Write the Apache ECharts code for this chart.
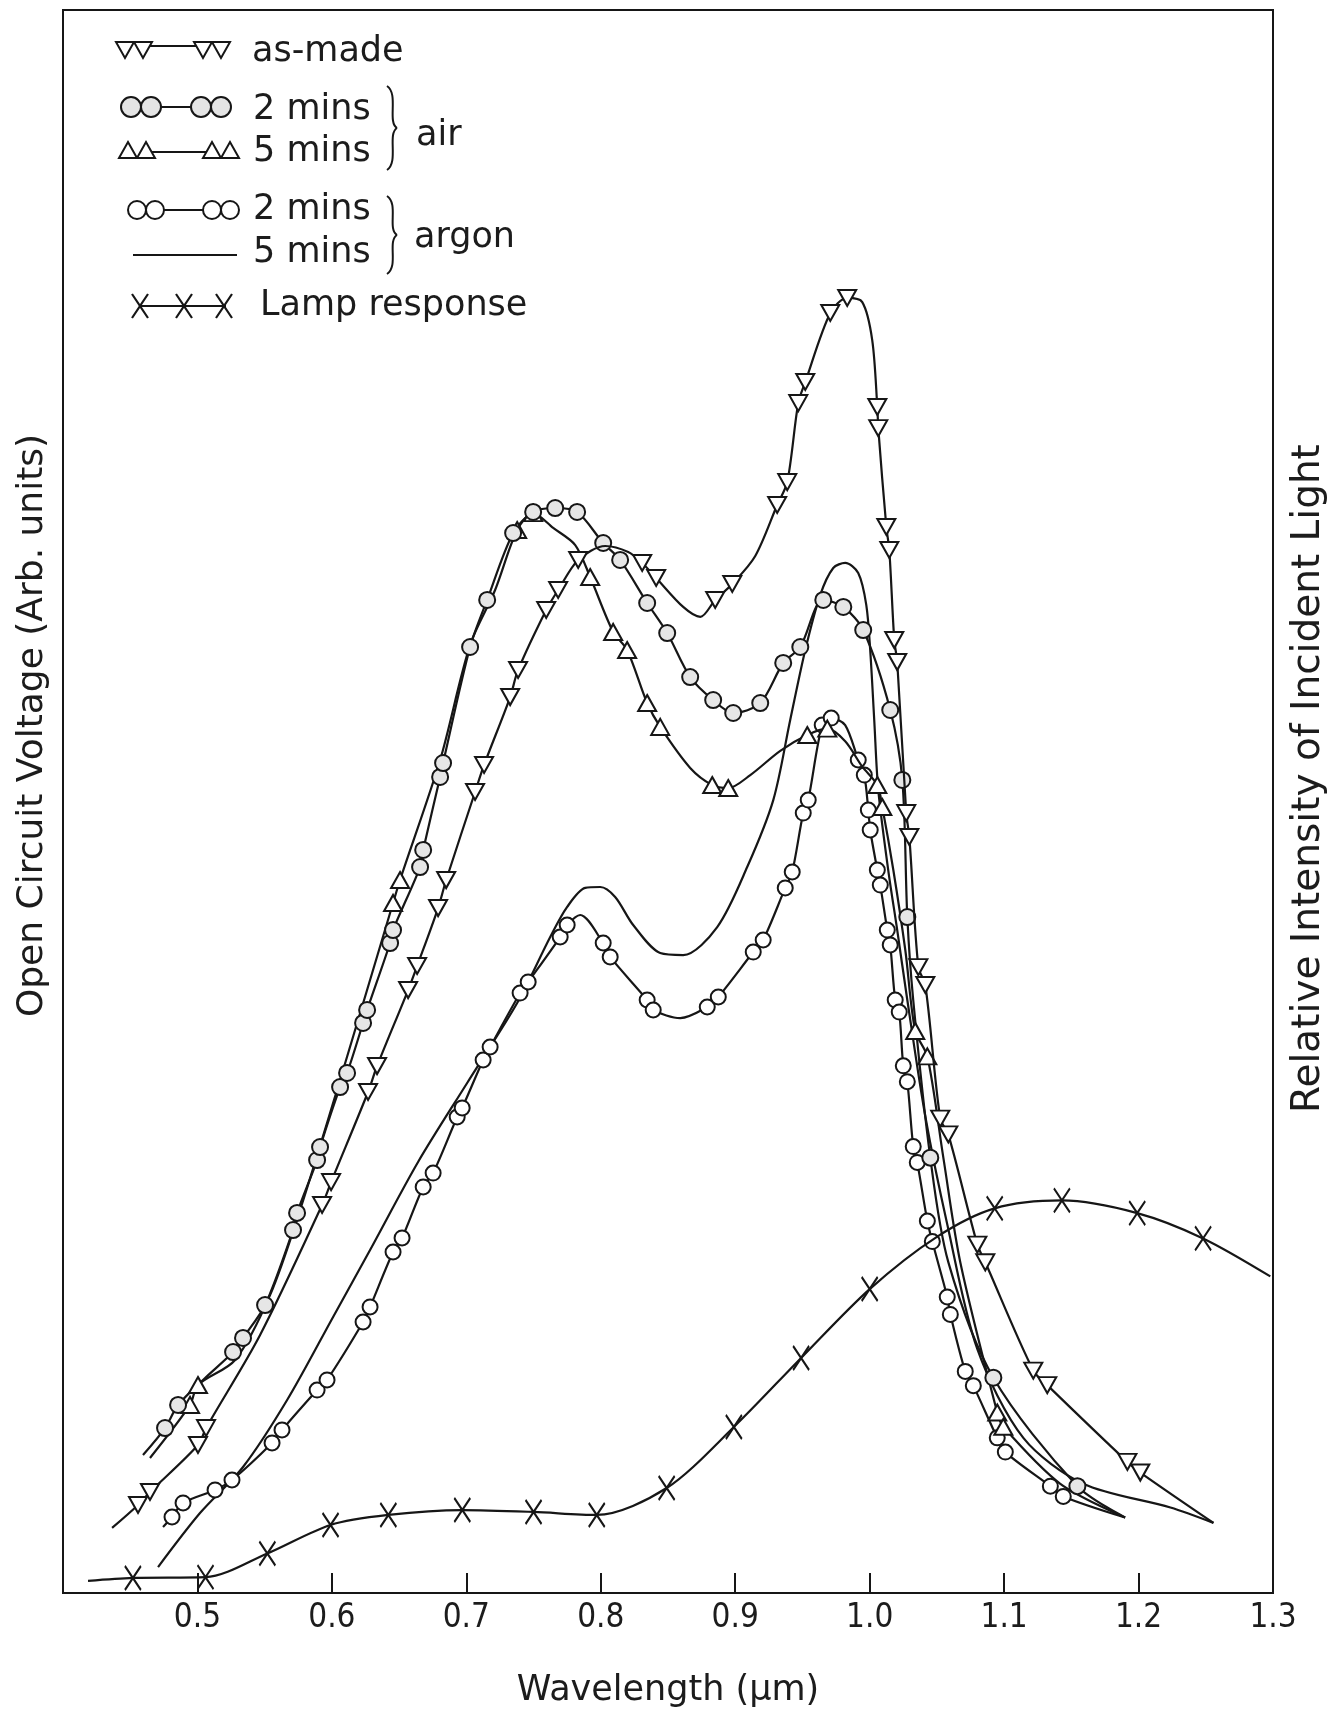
<!DOCTYPE html>
<html><head><meta charset="utf-8">
<script src="https://cdn.jsdelivr.net/npm/echarts@6/dist/echarts.min.js"></script>
<style>html,body{margin:0;padding:0;background:#fff}#c{width:1342px;height:1718px}</style>
</head><body><div id="c"></div>
<script>
// ---- tick labels ----
const xTickLabels = ['', '0.5', '0.6', '0.7', '0.8', '0.9', '1.0', '1.1', '1.2', '1.3'];

// ---- as-made (inverted triangles) ----
const asMadeX = [0.4365,0.4558,0.4647,0.5004,0.5064,0.5466,0.5927,0.5994,0.6269,0.6336,0.6567,0.6634,0.6790,0.6850,0.7065,0.7132,0.7326,0.7385,0.7594,0.7683,0.7832,0.8033,0.8204,0.8308,0.8412,0.8613,0.8740,0.8851,0.8978,0.9149,0.9312,0.9387,0.9469,0.9521,0.9707,0.9833,0.9945,1.0019,1.0057,1.0064,1.0124,1.0146,1.0183,1.0205,1.0272,1.0295,1.0362,1.0414,1.0525,1.0585,1.0801,1.0860,1.1217,1.1321,1.1917,1.2013,1.2557];
const asMadeY = [4.11,5.56,6.38,9.35,10.42,16.30,24.51,25.96,31.65,33.29,38.09,39.61,43.27,45.04,50.60,52.31,56.60,58.31,62.10,63.36,65.26,66.14,65.76,65.07,64.12,62.29,61.66,62.73,63.74,65.51,68.73,70.18,75.17,76.50,80.86,81.81,81.55,79.15,74.92,73.59,67.34,65.89,60.20,58.81,49.27,47.76,39.54,38.41,29.97,28.97,22.01,20.89,14.05,13.13,8.28,7.61,4.43];
const asMadeMarked = [0,1,1,1,1,0,1,1,1,1,1,1,1,1,1,1,1,1,1,1,1,0,0,1,1,0,0,1,1,0,1,1,1,1,1,1,0,0,1,1,1,1,1,1,1,1,1,1,1,1,1,1,1,1,1,1,0];

// ---- air, 2 mins (hatched circles) ----
const air2X = [0.4595,0.4759,0.4856,0.5057,0.5265,0.5339,0.5503,0.5711,0.5741,0.5890,0.5912,0.6061,0.6113,0.6232,0.6262,0.6433,0.6455,0.6656,0.6679,0.6805,0.6827,0.7028,0.7155,0.7348,0.7497,0.7661,0.7824,0.8018,0.8144,0.8345,0.8494,0.8665,0.8836,0.8985,0.9186,0.9357,0.9484,0.9655,0.9804,0.9952,1.0153,1.0243,1.0280,1.0324,1.0451,1.0585,1.0920,1.1545,1.1900];
const air2Y = [8.72,10.42,11.88,13.58,15.22,16.11,18.19,22.93,24.01,27.35,28.17,31.96,32.85,36.01,36.83,41.06,41.88,45.86,46.94,51.55,52.43,59.76,62.73,66.96,68.29,68.54,68.29,66.33,65.26,62.54,60.64,57.86,56.41,55.59,56.22,58.75,59.76,62.73,62.29,60.83,55.78,51.36,42.70,37.46,27.50,20.90,13.60,6.75,4.77];
const air2Marked = [0,1,1,0,1,1,1,1,1,1,1,1,1,1,1,1,1,1,1,1,1,1,1,1,1,1,1,1,1,1,1,1,1,1,1,1,1,1,1,1,1,1,1,0,1,0,1,1,0];

// ---- air, 5 mins (triangles) ----
const air5X = [0.4647,0.4945,0.5004,0.5280,0.5540,0.5763,0.6061,0.6455,0.6507,0.6805,0.7028,0.7214,0.7378,0.7497,0.7646,0.7810,0.7921,0.8092,0.8196,0.8345,0.8442,0.8665,0.8829,0.8948,0.9112,0.9335,0.9536,0.9685,0.9818,0.9945,1.0057,1.0094,1.0176,1.0265,1.0339,1.0429,1.0548,1.0674,1.0949,1.0994,1.1418,1.1900];
const air5Y = [8.53,11.88,13.14,14.72,18.82,24.19,32.41,43.59,45.04,52.62,59.89,63.36,67.15,68.22,67.28,66.20,64.18,60.71,59.57,56.22,54.71,52.12,51.04,50.85,51.67,53.20,54.20,54.60,53.80,52.20,51.04,49.65,45.67,40.62,35.50,33.90,27.50,20.90,11.40,10.50,6.90,4.77];
const air5Marked = [0,1,1,0,0,0,0,1,1,0,0,0,1,1,0,0,1,1,1,1,1,0,1,1,0,0,1,1,0,0,1,1,0,0,1,1,0,0,1,1,0,0];

// ---- argon, 2 mins (open circles) ----
const argon2X = [0.4744,0.4811,0.4893,0.5131,0.5257,0.5555,0.5629,0.5890,0.5964,0.6232,0.6284,0.6455,0.6522,0.6679,0.6753,0.6932,0.6969,0.7125,0.7177,0.7400,0.7460,0.7698,0.7750,0.7847,0.8018,0.8070,0.8345,0.8390,0.8591,0.8792,0.8874,0.9134,0.9208,0.9372,0.9424,0.9506,0.9543,0.9647,0.9714,0.9818,0.9915,0.9960,0.9990,1.0004,1.0057,1.0079,1.0131,1.0153,1.0190,1.0220,1.0250,1.0280,1.0324,1.0354,1.0429,1.0466,1.0577,1.0600,1.0711,1.0771,1.0949,1.1009,1.1344,1.1440,1.1900];
const argon2Y = [4.17,4.80,5.69,6.51,7.14,9.48,10.30,12.82,13.46,17.12,18.07,21.54,22.43,25.65,26.53,30.07,30.64,33.67,34.49,37.90,38.60,41.44,42.20,42.83,41.06,40.18,37.46,36.83,36.32,37.02,37.65,40.49,41.25,44.54,45.55,49.27,50.09,54.83,55.27,54.83,52.62,51.67,49.46,48.20,45.67,44.72,41.88,40.94,37.46,36.70,33.30,32.30,28.20,27.20,23.50,22.20,18.70,17.60,14.00,13.10,9.80,8.90,6.75,6.10,4.77];
const argon2Marked = [0,1,1,1,1,1,1,1,1,1,1,1,1,1,1,1,1,1,1,1,1,1,1,0,1,1,1,1,0,1,1,1,1,1,1,1,1,1,1,0,1,1,1,1,1,1,1,1,1,1,1,1,1,1,1,1,1,1,1,1,1,1,1,1,0];

// ---- argon, 5 mins (plain line) ----
const argon5X = [0.4707,0.5019,0.5339,0.5667,0.6009,0.6284,0.6641,0.7006,0.7378,0.7624,0.7750,0.7884,0.7996,0.8107,0.8241,0.8442,0.8613,0.8866,0.9089,0.9283,0.9409,0.9521,0.9632,0.9729,0.9818,0.9915,0.9975,1.0004,1.0034,1.0064,1.0138,1.0205,1.0280,1.0414,1.0577,1.0801,1.1143,1.1589,1.2237,1.2557];
const argon5Y = [1.64,5.05,7.96,12.19,17.44,21.67,27.23,32.22,37.27,41.44,43.34,44.54,44.60,43.97,42.20,40.43,40.30,42.07,45.86,50.09,55.15,59.57,63.04,64.75,65.07,64.43,62.41,59.57,55.15,50.73,45.67,41.88,37.46,30.10,23.30,15.40,9.80,6.90,5.40,4.43];

// ---- lamp response (relative intensity of incident light) ----
const lampX = [0.4186,0.4520,0.5060,0.5520,0.5990,0.6420,0.6970,0.7500,0.7970,0.8490,0.8990,0.9490,1.0000,1.0500,1.0930,1.1430,1.1990,1.2480,1.2980];
const lampY = [0.76,0.95,1.00,2.50,4.30,4.93,5.24,5.12,4.93,6.63,10.49,14.85,19.20,22.50,24.30,24.80,24.00,22.40,20.00];
const lampMarked = [0,1,1,1,1,1,1,1,1,1,1,1,1,0,1,1,1,1,0];

const INK = '#161616';
const FONT = "'DejaVu Sans',sans-serif";
const FONT_C = "'DejaVu Sans Condensed','DejaVu Sans',sans-serif";
const SYM_DOWN = 'path://M0,0 L20,0 L10,18 Z';
const SYM_UP = 'path://M10,0 L20,18 L0,18 Z';
const SYM_X = 'path://M1,0 L8,10 L1,20 M15,0 L8,10 L15,20';

function pts(xs, ys, marks, sym) {
  return xs.map((x, i) => ({ value: [x, ys[i]], symbol: (marks && marks[i]) ? sym : 'none' }));
}
function lineSeries(name, data, sym, size, fill, yIdx, z) {
  return {
    type: 'line', name: name, data: data, yAxisIndex: yIdx || 0,
    smooth: 0.3, showSymbol: true, symbol: sym, symbolSize: size,
    lineStyle: { color: INK, width: 2.2 },
    itemStyle: { color: fill, borderColor: INK, borderWidth: 2 },
    emphasis: { disabled: true }, z: z || 2, clip: false
  };
}

const chart = echarts.init(document.getElementById('c'), null, { renderer: 'canvas' });

// legend drawn as graphics
function tri(cx, cy, down) {
  const h = 8;
  return { type: 'polygon', shape: { points: down ? [[cx - 9, cy - h], [cx + 9, cy - h], [cx, cy + h]] : [[cx - 9, cy + h], [cx + 9, cy + h], [cx, cy - h]] },
    style: { fill: '#fff', stroke: INK, lineWidth: 2 } };
}
function circ(cx, cy, r, fill) {
  return { type: 'circle', shape: { cx: cx, cy: cy, r: r }, style: { fill: fill, stroke: INK, lineWidth: 2 } };
}
function seg(x1, y1, x2, y2) {
  return { type: 'line', shape: { x1: x1, y1: y1, x2: x2, y2: y2 }, style: { stroke: INK, lineWidth: 2 } };
}
function txt(x, y, s) {
  return { type: 'text', x: x, y: y, style: { text: s, font: "35px " + FONT, fill: '#1c1c1c', verticalAlign: 'middle' } };
}
function xmark(cx, cy, dir) {
  return { type: 'polyline', shape: { points: [[cx + dir * 8, cy - 12], [cx, cy], [cx + dir * 8, cy + 12]] }, style: { stroke: INK, lineWidth: 2.2, fill: null } };
}
function brace(x, y1, y2) {
  const m = (y1 + y2) / 2;
  return [
    { type: 'bezierCurve', shape: { x1: x - 4, y1: y1, cpx1: x + 8, cpy1: y1 + 8, cpx2: x - 4, cpy2: m - 6, x2: x + 6, y2: m }, style: { stroke: INK, lineWidth: 2, fill: null } },
    { type: 'bezierCurve', shape: { x1: x + 6, y1: m, cpx1: x - 4, cpy1: m + 6, cpx2: x + 8, cpy2: y2 - 8, x2: x - 4, y2: y2 }, style: { stroke: INK, lineWidth: 2, fill: null } }
  ];
}

const legend = [];
legend.push(seg(143, 46, 203, 46), tri(125, 50, true), tri(143, 50, true), tri(203, 50, true), tri(221, 50, true), txt(252, 52, 'as-made'));
legend.push(seg(151, 107, 201, 107), circ(131, 107, 10, '#e4e4e4'), circ(151, 107, 10, '#e4e4e4'), circ(201, 107, 10, '#e4e4e4'), circ(221, 107, 10, '#e4e4e4'), txt(253, 110, '2 mins'));
legend.push(seg(146, 152, 212, 152), tri(128, 150, false), tri(146, 150, false), tri(212, 150, false), tri(230, 150, false), txt(253, 152, '5 mins'));
legend.push(...brace(391, 86, 170), txt(416, 136, 'air'));
legend.push(seg(155, 210, 212, 210), circ(137, 210, 9, '#fff'), circ(155, 210, 9, '#fff'), circ(212, 210, 9, '#fff'), circ(230, 210, 9, '#fff'), txt(253, 210, '2 mins'));
legend.push(seg(133, 255, 237, 255), txt(253, 253, '5 mins'));
legend.push(...brace(391, 196, 274), txt(414, 238, 'argon'));
legend.push(seg(140, 306, 226, 306));
[140, 184, 224].forEach(cx => { legend.push(xmark(cx, 306, -1), xmark(cx, 306, 1)); });
legend.push(txt(260, 306, 'Lamp response'));

const option = {
  animation: false,
  backgroundColor: '#fff',
  grid: { left: 63, right: 69, top: 10, bottom: 125, show: true, borderColor: INK, borderWidth: 2, backgroundColor: 'transparent' },
  xAxis: {
    type: 'value', min: 0.4, max: 1.3, interval: 0.1,
    name: 'Wavelength (\u03bcm)', nameLocation: 'middle', nameGap: 80,
    nameTextStyle: { fontSize: 35, color: '#1c1c1c', fontFamily: FONT },
    axisLine: { show: true, lineStyle: { color: INK, width: 2 } },
    axisTick: { show: true, inside: true, length: 20, lineStyle: { color: INK, width: 2 } },
    axisLabel: { fontSize: 33, color: '#1c1c1c', fontFamily: FONT_C, margin: 9,
      formatter: v => xTickLabels[Math.round((v - 0.4) * 10)] || '' },
    splitLine: { show: false }
  },
  yAxis: [
    { type: 'value', min: 0, max: 100, position: 'left',
      name: 'Open Circuit Voltage (Arb. units)', nameLocation: 'middle', nameGap: 12, nameRotate: 90,
      nameTextStyle: { fontSize: 36, color: '#1c1c1c', fontFamily: FONT, padding: [0, 0, 0, 152] },
      axisLine: { show: true, lineStyle: { color: INK, width: 2 } }, axisTick: { show: false }, axisLabel: { show: false }, splitLine: { show: false } },
    { type: 'value', min: 0, max: 100, position: 'right',
      name: 'Relative Intensity of Incident Light', nameLocation: 'middle', nameGap: 16, nameRotate: 90,
      nameTextStyle: { fontSize: 39, color: '#1c1c1c', fontFamily: FONT, padding: [0, 0, 0, 46] },
      axisLine: { show: true, lineStyle: { color: INK, width: 2 } }, axisTick: { show: false }, axisLabel: { show: false }, splitLine: { show: false } }
  ],
  series: [
    lineSeries('argon, 5 mins', pts(argon5X, argon5Y, null, 'none'), 'none', 0, '#fff', 0, 2),
    lineSeries('argon, 2 mins', pts(argon2X, argon2Y, argon2Marked, 'circle'), 'circle', 15, '#fff', 0, 3),
    lineSeries('air, 5 mins', pts(air5X, air5Y, air5Marked, SYM_UP), SYM_UP, [18, 16], '#fff', 0, 4),
    lineSeries('air, 2 mins', pts(air2X, air2Y, air2Marked, 'circle'), 'circle', 16, '#e6e6e6', 0, 4),
    lineSeries('as-made', pts(asMadeX, asMadeY, asMadeMarked, SYM_DOWN), SYM_DOWN, [18, 16], '#fff', 0, 5),
    Object.assign(lineSeries('Lamp response', pts(lampX, lampY, lampMarked, SYM_X), SYM_X, [16, 24], 'rgba(0,0,0,0)', 1, 5),
      { itemStyle: { color: 'rgba(0,0,0,0)', borderColor: INK, borderWidth: 2.2 } })
  ],
  graphic: legend
};
chart.setOption(option);
</script>
</body></html>
